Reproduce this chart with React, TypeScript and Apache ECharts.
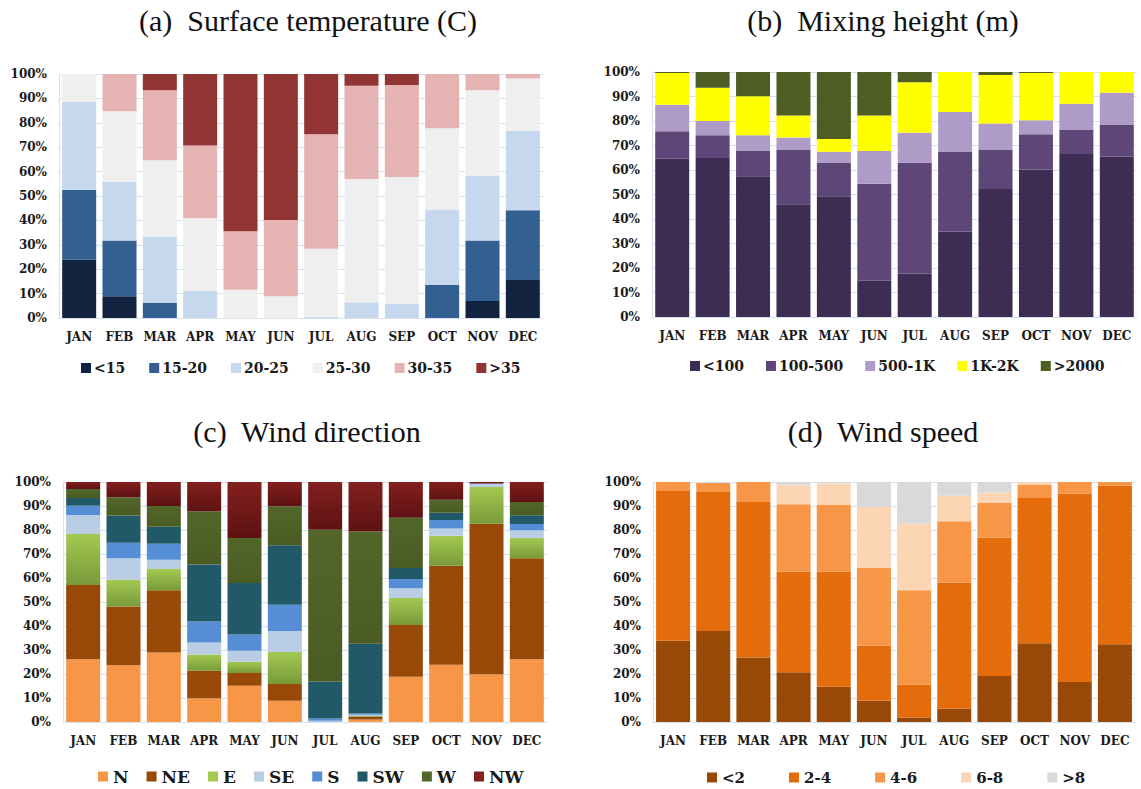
import React, { useEffect, useRef } from "react";
import * as echarts from "echarts";

const months = ["JAN", "FEB", "MAR", "APR", "MAY", "JUN", "JUL", "AUG", "SEP", "OCT", "NOV", "DEC"];

// (a) Surface temperature (C)
const tempNames = ["<15", "15-20", "20-25", "25-30", "30-35", ">35"];
const tempLt15 = [24, 8.9, 0, 0, 0, 0, 0, 0, 0, 0, 7, 15.6];
const temp15to20 = [28.5, 22.9, 6.3, 0, 0, 0, 0, 0, 0, 13.6, 24.8, 28.6];
const temp20to25 = [36, 24, 27.1, 11.2, 0, 0, 0.5, 6.5, 5.7, 30.9, 26.6, 32.5];
const temp25to30 = [11.5, 28.9, 31.3, 29.7, 11.6, 8.9, 27.9, 50.5, 52.1, 33.3, 34.9, 21.5];
const temp30to35 = [0, 15.3, 28.6, 29.8, 24, 31.3, 46.9, 38.2, 37.7, 22.2, 6.7, 1.8];
const tempGt35 = [0, 0, 6.7, 29.3, 64.4, 59.8, 24.7, 4.8, 4.5, 0, 0, 0];
const tempColors = ["#12233f", "#335f91", "#c5d8ee", "#efefef", "#e6b3b3", "#933434"];

// (b) Mixing height (m)
const mixNames = ["<100", "100-500", "500-1K", "1K-2K", ">2000"];
const mixLt100 = [64.6, 64.9, 57.5, 46, 49.3, 14.8, 17.8, 34.9, 52.2, 60.2, 66.5, 65.5];
const mix100to500 = [11.2, 9.3, 10.5, 22.4, 13.8, 39.6, 45.2, 32.7, 16, 14.4, 10, 13.1];
const mix500to1k = [10.8, 5.8, 6.2, 4.9, 4.3, 13.4, 12.2, 16.1, 10.8, 5.7, 10.5, 12.9];
const mix1kto2k = [13, 13.6, 15.9, 8.9, 5.3, 14.4, 20.6, 16.3, 19.8, 19.3, 13, 8.5];
const mixGt2000 = [0.4, 6.4, 9.9, 17.8, 27.3, 17.8, 4.2, 0, 1.2, 0.4, 0, 0];
const mixColors = ["#3e2d52", "#5e4679", "#ae9bc7", "#ffff00", "#4e5e22"];

// (c) Wind direction
const dirNames = ["N", "NE", "E", "SE", "S", "SW", "W", "NW"];
const dirN = [26.1, 23.6, 29, 9.9, 15.1, 8.9, 0, 1, 18.9, 23.9, 19.9, 26.1];
const dirNE = [31, 24.5, 25.9, 11.5, 5.3, 6.9, 0, 1.2, 21.5, 41.2, 62.7, 42.1];
const dirE = [21.2, 11.2, 8.9, 6.7, 4.7, 13.4, 0, 0.3, 11.3, 12.5, 15.3, 8.5];
const dirSE = [8, 8.9, 3.8, 5, 4.6, 8.7, 0.5, 0.5, 4, 3, 1.3, 3.2];
const dirS = [3.8, 6.5, 6.7, 8.8, 6.8, 11, 1, 0.5, 3.9, 3.6, 0.2, 2.6];
const dirSW = [3.2, 11.3, 7.1, 23.7, 21.4, 24.7, 15.4, 29.1, 4.6, 3, 0, 3.6];
const dirW = [3.8, 7.6, 8.6, 22.2, 18.8, 16.3, 63.2, 46.8, 20.9, 5.4, 0, 5.6];
const dirNW = [2.9, 6.4, 10, 12.2, 23.3, 10.1, 19.9, 20.6, 14.9, 7.4, 0.6, 8.3];
const dirColorsTop = ["#f79646", "#984807", "#a3c951", "#b9cde5", "#558ed5", "#215968", "#526629", "#831f1f"];
const dirColorsBottom = ["#f79646", "#984807", "#789a3a", "#b9cde5", "#558ed5", "#215968", "#4a5c24", "#5e1212"];

// (d) Wind speed
const spdNames = ["<2", "2-4", "4-6", "6-8", ">8"];
const spdLt2 = [33.9, 37.9, 26.9, 20.7, 14.7, 8.9, 1.9, 5.6, 19.2, 32.8, 16.7, 32.4];
const spd2to4 = [62.4, 57.9, 64.8, 41.9, 47.9, 23, 13.7, 52.5, 57.6, 60.5, 78.4, 66.1];
const spd4to6 = [3.7, 3.8, 8.3, 28.1, 27.8, 32.3, 39.3, 25.5, 14.4, 5.5, 4.9, 1.5];
const spd6to8 = [0, 0, 0, 7.9, 9, 25.4, 27.7, 10.7, 4.4, 1.2, 0, 0];
const spdGt8 = [0, 0, 0, 1.4, 0.6, 10.4, 17.4, 5.7, 4.4, 0, 0, 0];
const spdColors = ["#984807", "#e46c0a", "#f79646", "#fcd5b5", "#d9d9d9"];

const titles = [
  { text: "(a)  Surface temperature (C)", x: 308, y: 20 },
  { text: "(b)  Mixing height (m)", x: 883, y: 20 },
  { text: "(c)  Wind direction", x: 307, y: 431 },
  { text: "(d)  Wind speed", x: 883, y: 431 },
];

const SLAB = "'DejaVu Serif', serif";
const gridLineColor = "#d6e1ef";

export default function App() {
  const ref = useRef<HTMLDivElement>(null);

  useEffect(() => {
    if (!ref.current) return;
    const chart = echarts.init(ref.current, null, { renderer: "svg" });

    const grids = [
      { left: 59, top: 74, width: 484, height: 244 },
      { left: 652, top: 72, width: 485, height: 245 },
      { left: 63, top: 482, width: 484, height: 240 },
      { left: 653, top: 482, width: 482, height: 240 },
    ];

    const xAxes = grids.map((_, i) => ({
      type: "category",
      gridIndex: i,
      data: months,
      axisLine: { show: true, lineStyle: { color: gridLineColor } },
      axisTick: { show: false },
      axisLabel: {
        color: "#1a1a1a",
        fontFamily: SLAB,
        fontWeight: "bold",
        fontSize: 12,
        margin: 13,
        interval: 0,
      },
    }));

    const yAxes = grids.map((_, i) => ({
      type: "value",
      gridIndex: i,
      min: 0,
      max: 100,
      interval: 10,
      axisLine: { show: true, lineStyle: { color: gridLineColor } },
      axisTick: { show: false },
      splitLine: { show: true, lineStyle: { color: gridLineColor, width: 1 } },
      axisLabel: {
        formatter: "{value}%",
        color: "#1a1a1a",
        fontFamily: SLAB,
        fontWeight: "bold",
        fontSize: 12,
        margin: 12,
      },
    }));

    const mk = (name: string, data: number[], idx: number, color: any, stack: string) => ({
      type: "bar",
      name,
      data,
      xAxisIndex: idx,
      yAxisIndex: idx,
      stack,
      barWidth: 34,
      itemStyle: { color },
      emphasis: { disabled: true },
    });

    const grad = (top: string, bottom: string) =>
      new echarts.graphic.LinearGradient(0, 0, 0, 1, [
        { offset: 0, color: top },
        { offset: 1, color: bottom },
      ]);

    const tempData = [tempLt15, temp15to20, temp20to25, temp25to30, temp30to35, tempGt35];
    const mixData = [mixLt100, mix100to500, mix500to1k, mix1kto2k, mixGt2000];
    const dirData = [dirN, dirNE, dirE, dirSE, dirS, dirSW, dirW, dirNW];
    const spdData = [spdLt2, spd2to4, spd4to6, spd6to8, spdGt8];

    const series = [
      ...tempNames.map((n, k) => mk(n, tempData[k], 0, tempColors[k], "a")),
      ...mixNames.map((n, k) => mk(n, mixData[k], 1, mixColors[k], "b")),
      ...dirNames.map((n, k) => mk(n, dirData[k], 2, grad(dirColorsTop[k], dirColorsBottom[k]), "c")),
      ...spdNames.map((n, k) => mk(n, spdData[k], 3, spdColors[k], "d")),
    ];

    const legendBase = {
      icon: "rect",
      itemWidth: 10,
      itemHeight: 10,
      orient: "horizontal",
      selectedMode: false,
    };

    const option: any = {
      animation: false,
      backgroundColor: "#ffffff",
      grid: grids,
      xAxis: xAxes,
      yAxis: yAxes,
      series,
      legend: [
        {
          ...legendBase,
          data: tempNames.map((n, k) => ({ name: n, itemStyle: { color: tempColors[k] } })),
          left: 76,
          top: 356,
          itemGap: 24,
          textStyle: { fontFamily: SLAB, fontWeight: "bold", fontSize: 14, color: "#1a1a1a", padding: [0, 0, 0, -2] },
        },
        {
          ...legendBase,
          data: mixNames.map((n, k) => ({ name: n, itemStyle: { color: mixColors[k] } })),
          left: 685,
          top: 354,
          itemGap: 22,
          textStyle: { fontFamily: SLAB, fontWeight: "bold", fontSize: 14, color: "#1a1a1a", padding: [0, 0, 0, -2] },
        },
        {
          ...legendBase,
          data: dirNames.map((n, k) => ({ name: n, itemStyle: { color: dirColorsTop[k] } })),
          left: 93,
          top: 763,
          itemGap: 18,
          textStyle: { fontFamily: SLAB, fontWeight: "bold", fontSize: 17, color: "#1a1a1a" },
        },
        {
          ...legendBase,
          data: spdNames.map((n, k) => ({ name: n, itemStyle: { color: spdColors[k] } })),
          left: 702,
          top: 765,
          itemGap: 44,
          textStyle: { fontFamily: SLAB, fontWeight: "bold", fontSize: 15, color: "#1a1a1a" },
        },
      ],
      graphic: titles.map((t) => ({
        type: "text",
        x: t.x,
        y: t.y,
        style: {
          text: t.text,
          fill: "#111111",
          font: "30px 'Liberation Serif', 'Times New Roman', serif",
          textAlign: "center",
          textVerticalAlign: "middle",
        },
      })),
    };

    chart.setOption(option);
    return () => chart.dispose();
  }, []);

  return (
    <div
      ref={ref}
      style={{ position: "fixed", left: 0, top: 0, width: 1141, height: 789, background: "#fff" }}
    />
  );
}
